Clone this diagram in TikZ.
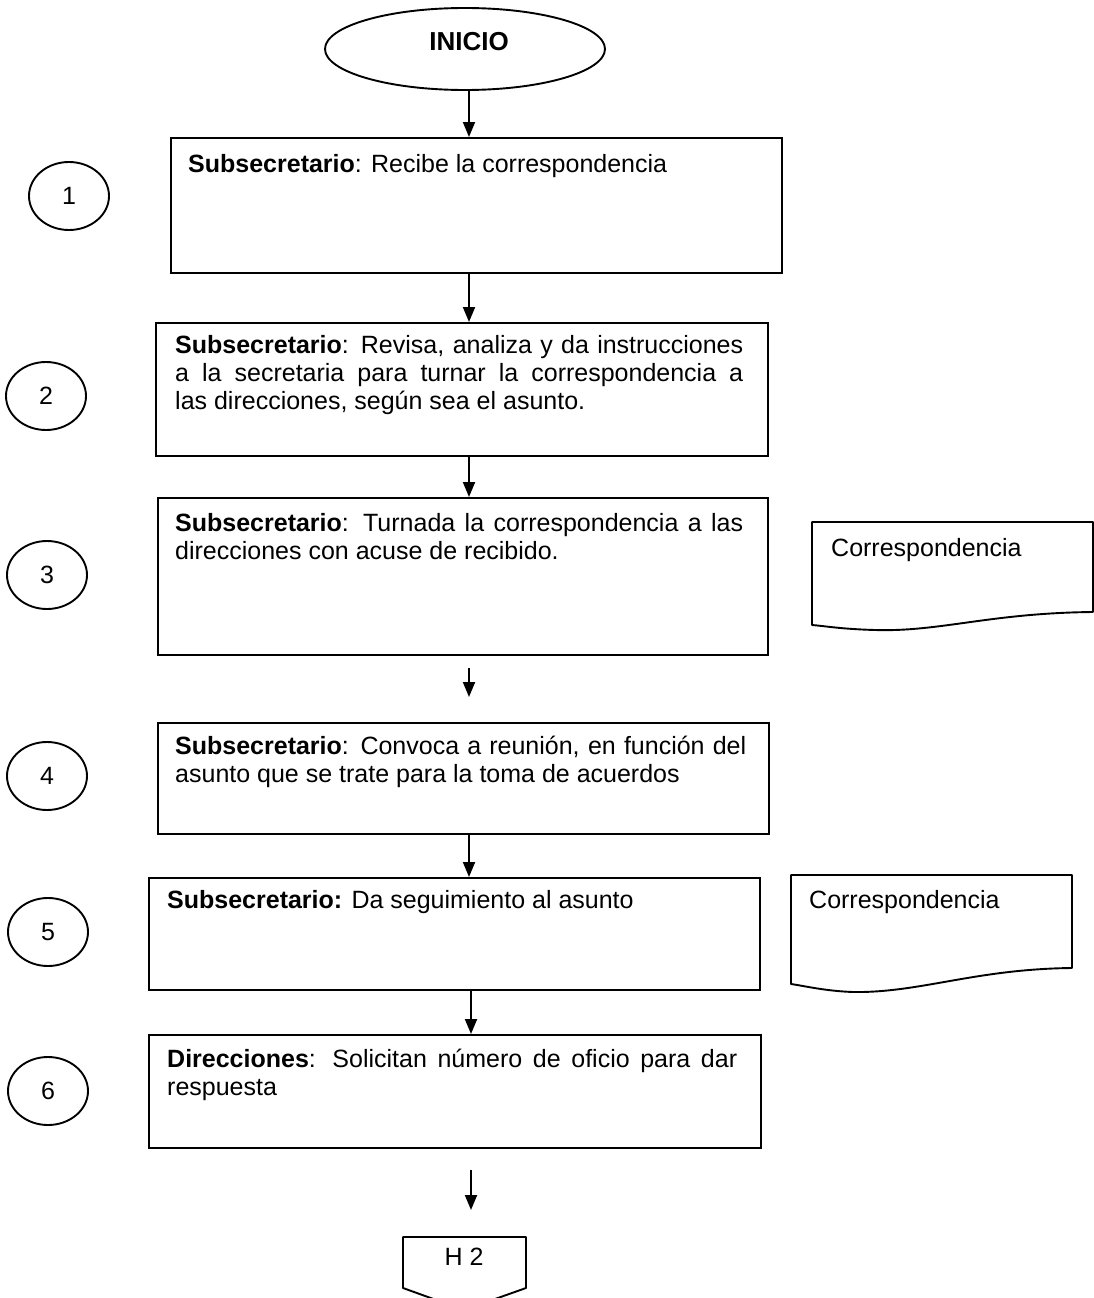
\documentclass[tikz,border=0pt]{standalone}
\usepackage{fontspec}
\setmainfont{Liberation Sans}
\usetikzlibrary{arrows.meta,shapes.geometric}
\newcommand\dgfont{\fontsize{25}{28}\selectfont}
\begin{document}
\begin{tikzpicture}[x=1pt,y=-1pt,
  lw/.style={line width=1.9pt},
  boxshape/.style={draw, lw, rectangle, anchor=north west, inner sep=0pt},
  numcirc/.style={draw, lw, ellipse, minimum width=80pt, minimum height=68pt, inner sep=0pt, font=\dgfont},
  txt/.style={anchor=base west, inner sep=0pt, font=\dgfont},
  jtxt/.style={txt, align=justify},
  arr/.style={lw, -{Triangle[length=15pt,width=12pt]}},
  docshape/.style={draw, lw, line join=round}]
\useasboundingbox (0,0) rectangle (1094,1298);
\begin{scope}
\clip (0,0) rectangle (1094,1298);
\fill[white] (0,0) rectangle (1094,1298);

% start
\node[draw, lw, ellipse, minimum width=280pt, minimum height=82pt] (e) at (465,49) {};
\node[font=\fontsize{26}{28}\selectfont\bfseries, inner sep=0pt] (einicio) at (469,42) {INICIO};
\coordinate (ax) at (469,0);
\coordinate (ax2) at (471,0);

% boxes
\node[boxshape, minimum width=611pt, minimum height=135pt] (b1) at (170,137) {};
\node[boxshape, minimum width=612pt, minimum height=133pt] (b2) at (155,322) {};
\node[boxshape, minimum width=610pt, minimum height=157pt] (b3) at (157,497) {};
\node[boxshape, minimum width=611pt, minimum height=111pt] (b4) at (157,722) {};
\node[boxshape, minimum width=611pt, minimum height=112pt] (b5) at (148,877) {};
\node[boxshape, minimum width=612pt, minimum height=113pt] (b6) at (148,1034) {};

% texts
\node[txt] (t1) at (188,172) {\textbf{Subsecretario}: Recibe la correspondencia};
\node[jtxt, text width=568pt] (t2) at (175,353) {\textbf{Subsecretario}: Revisa, analiza y da instrucciones\linebreak a la secretaria para turnar la correspondencia a\linebreak las direcciones, según sea el asunto.};
\node[jtxt, text width=568pt] (t3) at (175,531) {\textbf{Subsecretario}: Turnada la correspondencia a las\linebreak direcciones con acuse de recibido.};
\node[jtxt, text width=571pt] (t4) at (175,754) {\textbf{Subsecretario}: Convoca a reunión, en función del\linebreak asunto que se trate para la toma de acuerdos};
\node[txt] (t5) at (167,908) {\textbf{Subsecretario:} Da seguimiento al asunto};
\node[jtxt, text width=570pt] (t6) at (167,1067) {\textbf{Direcciones}: Solicitan número de oficio para dar\linebreak respuesta};

% numbered circles
\node[numcirc] (c1) at (69,196) {1};
\node[numcirc] (c2) at (46,396) {2};
\node[numcirc] (c3) at (47,575) {3};
\node[numcirc] (c4) at (47,776) {4};
\node[numcirc] (c5) at (48,932) {5};
\node[numcirc] (c6) at (48,1091) {6};

% documents
\draw[docshape] (812,522) -- (1093,522) -- (1093,612)
  .. controls (990,613) and (940,632) .. (875,630)
  .. controls (840,629) and (825,626) .. (812,625) -- cycle;
\node[txt] (d1) at (831,556) {Correspondencia};
\draw[docshape] (791,875) -- (1072,875) -- (1072,968)
  .. controls (975,969) and (920,993) .. (853,992)
  .. controls (825,991) and (805,986) .. (791,984) -- cycle;
\node[txt] (d2) at (809,908) {Correspondencia};

% off-page connector
\draw[docshape] (403,1237) -- (526,1237) -- (526,1288) -- (464,1310) -- (403,1288) -- cycle;
\node[font=\dgfont, inner sep=0pt] (h2) at (464,1257) {H 2};
\coordinate (h2top) at (471,1237);

% arrows
\draw[arr] (e.south -| ax) -- (b1.north -| ax);
\draw[arr] (b1.south -| ax) -- (b2.north -| ax);
\draw[arr] (b2.south -| ax) -- (b3.north -| ax);
\draw[arr, shorten <=12pt, shorten >=25pt] (b3.south -| ax) -- (b4.north -| ax);
\draw[arr] (b4.south -| ax) -- (b5.north -| ax);
\draw[arr] (b5.south -| ax2) -- (b6.north -| ax2);
\draw[arr, shorten <=21pt, shorten >=27pt] (b6.south -| ax2) -- (h2top);
\end{scope}
\end{tikzpicture}
\end{document}
